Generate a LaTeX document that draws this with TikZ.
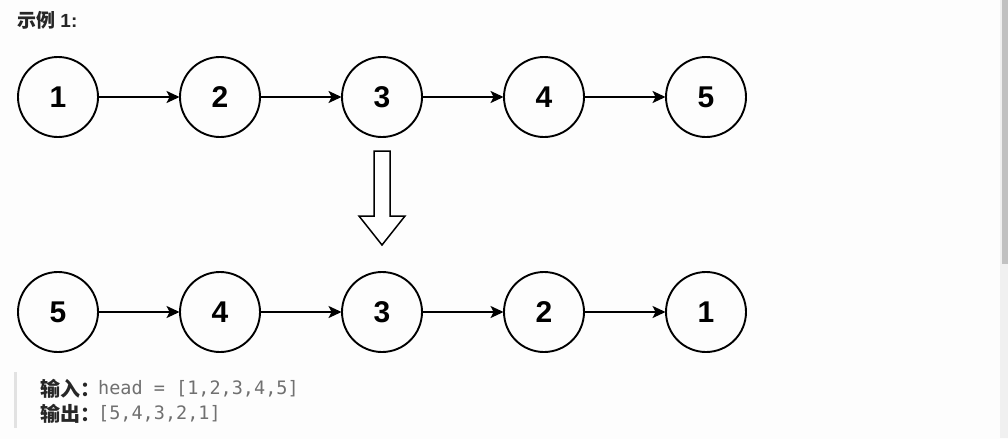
\documentclass[tikz,border=0pt]{standalone}
\usepackage{fontspec}
\setmainfont{Liberation Sans}
\newfontfamily\cjk{Noto Sans CJK SC}
\newfontfamily\monof{DejaVu Sans Mono}
\usetikzlibrary{arrows.meta}
\definecolor{bg}{HTML}{FDFDFD}
\definecolor{track}{HTML}{F0F0F0}
\definecolor{thumb}{HTML}{C1C1C1}
\definecolor{quotebar}{HTML}{E2E2E2}
\definecolor{codegray}{HTML}{707070}
\definecolor{txt}{HTML}{262626}
\tikzset{
  listnode/.style={circle, draw=black, line width=1.9pt, minimum size=80pt, inner sep=0pt,
    font=\fontsize{30}{30}\selectfont\bfseries},
  link/.style={line width=1.6pt, -{Stealth[length=13pt, width=12pt, inset=3pt]}, shorten >=-0.5pt},
  hollow/.style={draw=black, line width=1.5pt, fill=white, line join=miter},
  label/.style={inner sep=0pt, anchor=west, text=txt},
  cjklabel/.style={label, font=\cjk\bfseries\fontsize{20}{20}\selectfont},
  codelabel/.style={inner sep=0pt, anchor=west, text=codegray, font=\monof\fontsize{18.5}{18.5}\selectfont}
}
\begin{document}
\begin{tikzpicture}[x=1pt, y=-1pt]
\useasboundingbox (0,0) rectangle (1008,439);
\fill[bg] (0,0) rectangle (1008,439);
% scrollbar
\fill[track] (1000,0) rectangle (1008,438);
\fill[thumb] (1002,0) rectangle (1008,264);
% title
\node[label, font=\fontsize{19}{19}\selectfont\bfseries] (title) at (17,20) {{\cjk\bfseries 示例} 1:};
% top row
\foreach \i/\x in {1/58, 2/220, 3/382, 4/544, 5/706}{
  \node[listnode] (a\i) at (\x,97) {\i};
}
\foreach \i/\j in {1/2, 2/3, 3/4, 4/5}{
  \draw[link] (a\i) -- (a\j);
}
% bottom row
\foreach \i/\v/\x in {1/5/58, 2/4/220, 3/3/382, 4/2/544, 5/1/706}{
  \node[listnode] (b\i) at (\x,312) {\v};
}
\foreach \i/\j in {1/2, 2/3, 3/4, 4/5}{
  \draw[link] (b\i) -- (b\j);
}
% hollow down arrow
\draw[hollow] (374,151) -- (390,151) -- (390,216) -- (405,216) -- (382,245) -- (359,216) -- (374,216) -- cycle;
% quote block
\fill[quotebar] (14,372) rectangle (17,428);
\node[cjklabel] (inlbl) at (40,389) {输入：};
\node[codelabel] (incode) at (98,389) {head = [1,2,3,4,5]};
\node[cjklabel] (outlbl) at (40,413.5) {输出：};
\node[codelabel] (outcode) at (98,413.5) {[5,4,3,2,1]};
\end{tikzpicture}
\end{document}
